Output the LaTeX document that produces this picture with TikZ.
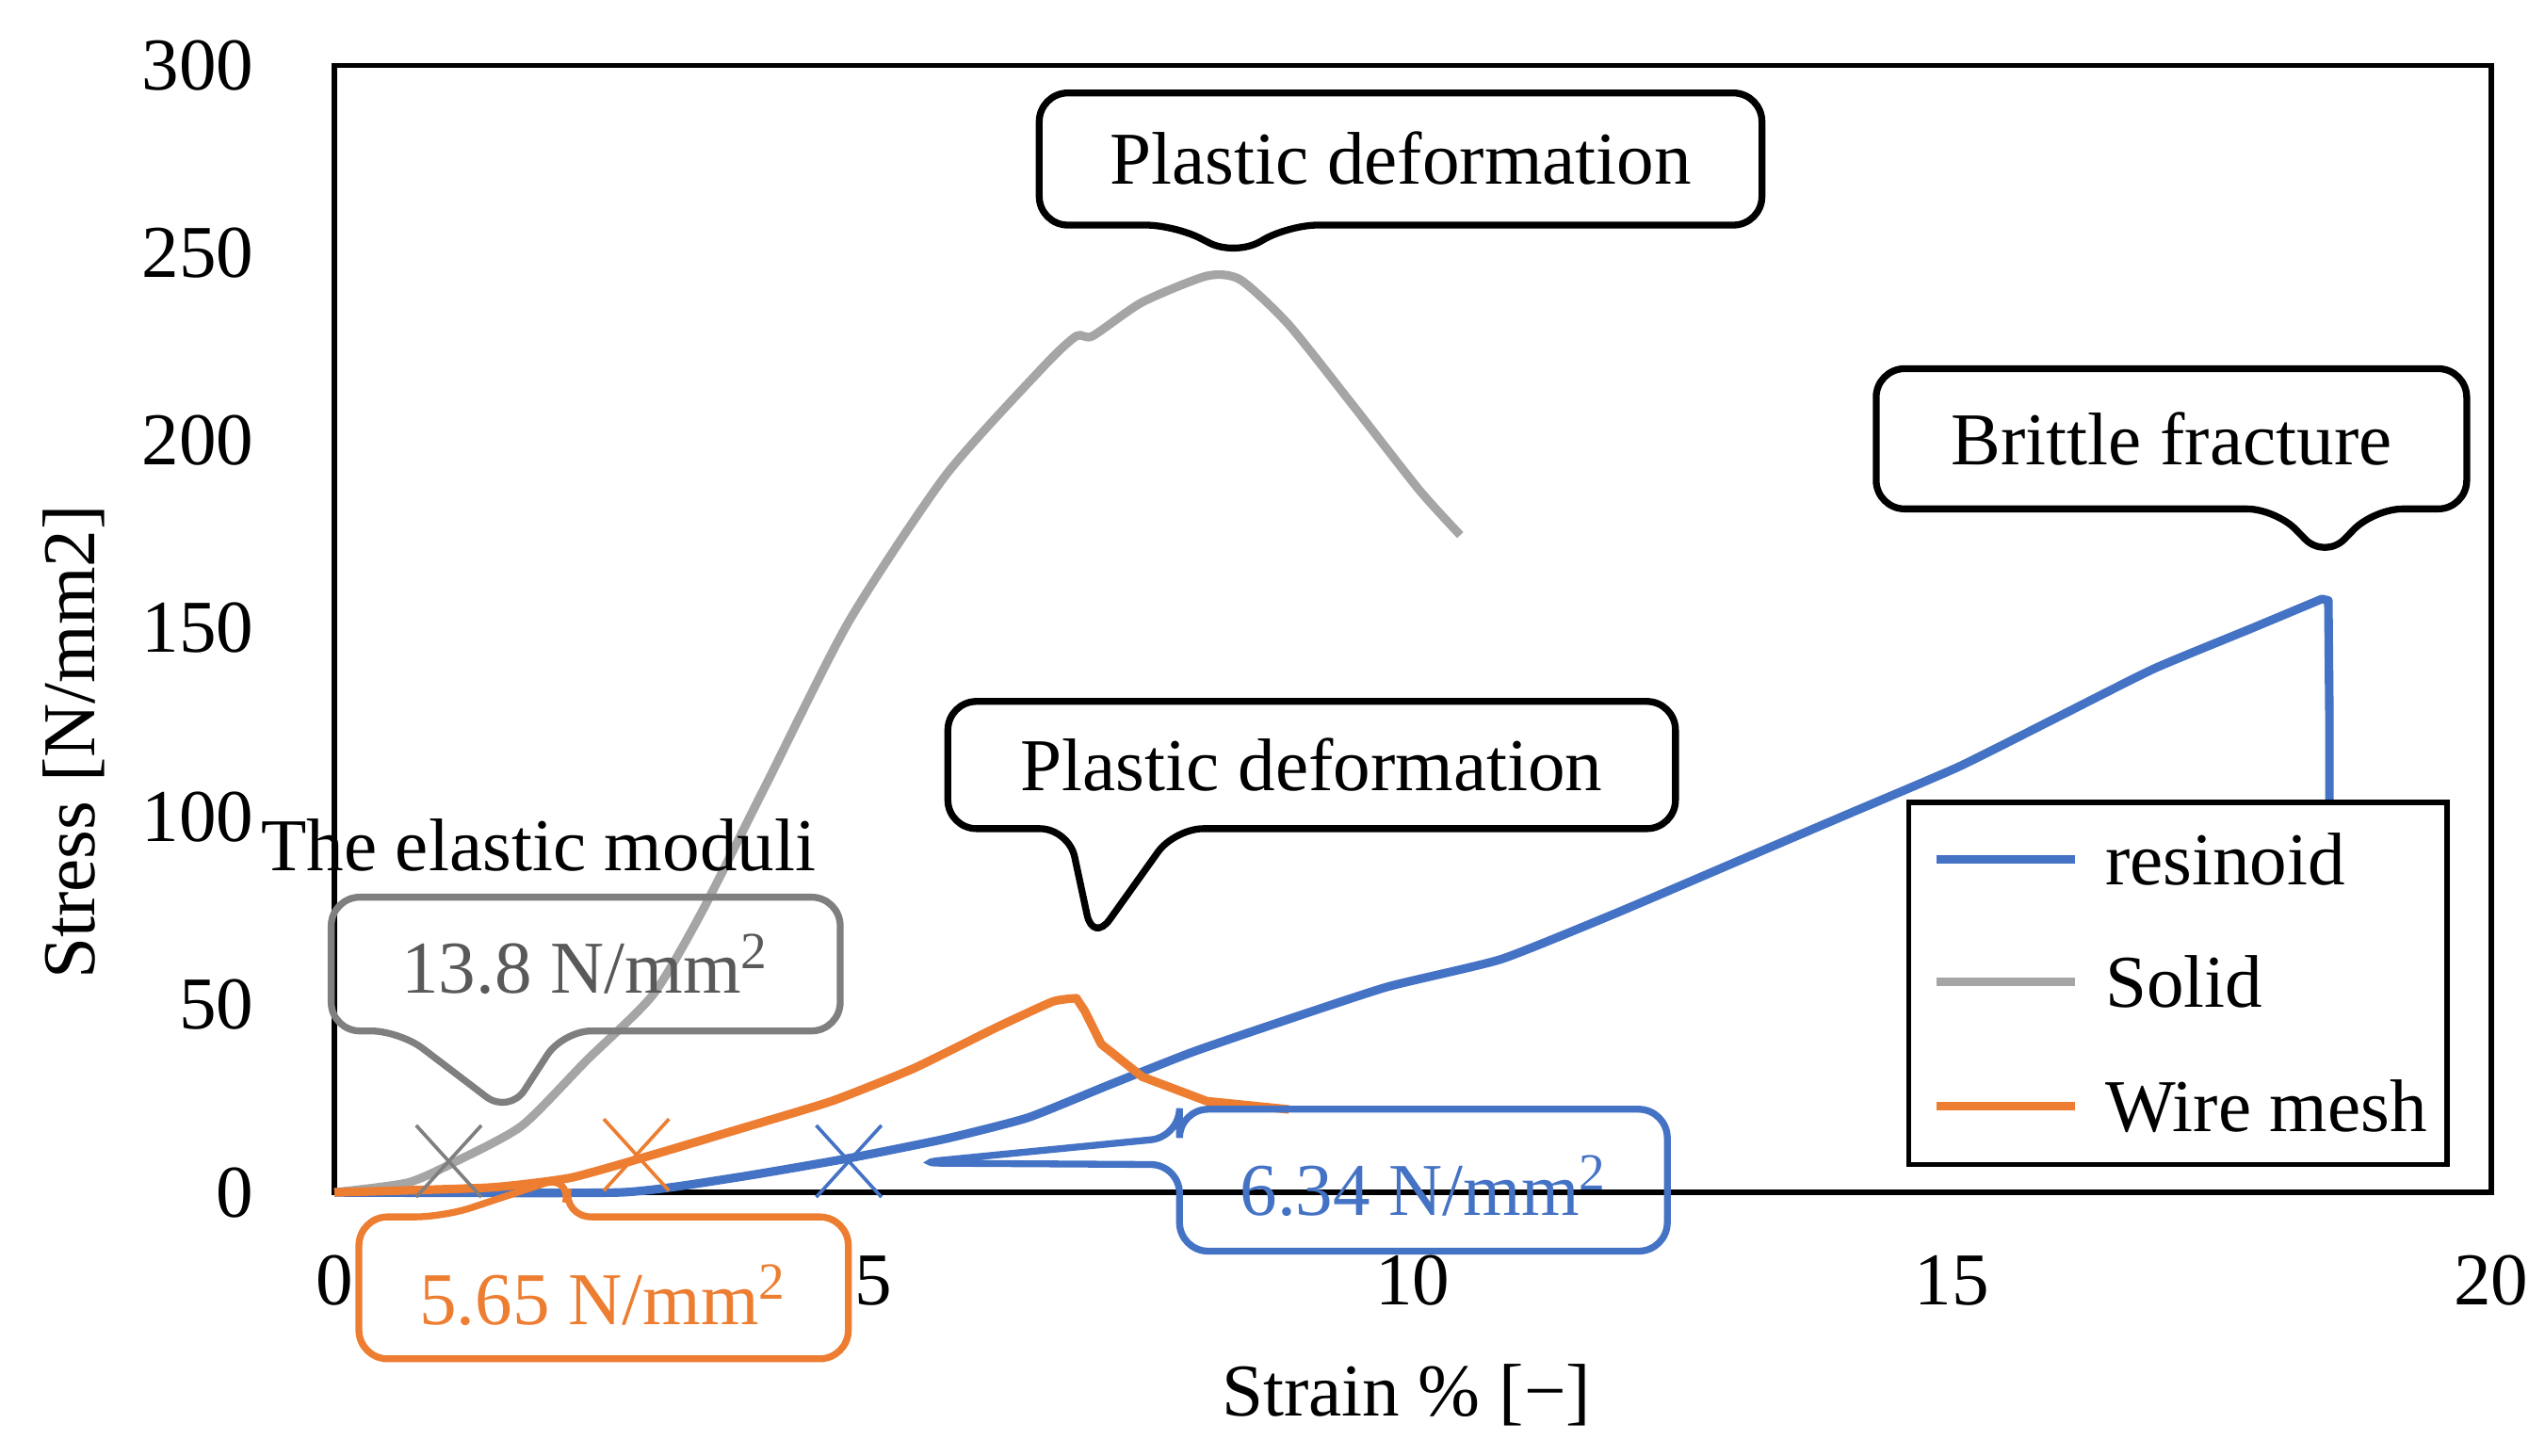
\documentclass[tikz,border=0pt]{standalone}
\usepackage{fontspec}
\setmainfont{Liberation Serif}
\usetikzlibrary{calc}
\definecolor{cblue}{HTML}{4472C4}
\definecolor{cgray}{HTML}{A5A5A5}
\definecolor{corange}{HTML}{ED7D31}
\definecolor{dgray}{HTML}{7F7F7F}
\definecolor{tgray}{HTML}{595959}
\begin{document}
\begin{tikzpicture}[
  lbl/.style={font=\fontsize{13}{15}\selectfont},
  call/.style={line width=1.2pt,rounded corners=5pt},
  curve/.style={line width=1.5pt,line join=round},
  mk/.style={line width=0.6pt}
]
\useasboundingbox (0,0) rectangle (15.6,8.92);
% frame
\draw[line width=0.9pt] (2.05,1.61) rectangle (15.27,8.52);
% y ticks
\foreach \v/\y in {0/1.61,50/2.76,100/3.91,150/5.07,200/6.22,250/7.37,300/8.52}
  \node[lbl,anchor=east] (yt\v) at (1.68,\y) {\v};
\foreach \v/\x in {0/2.05,5/5.355,10/8.66,15/11.965,20/15.27}
  \node[lbl] (xt\v) at (\x,1.07) {\v};
\node[lbl] (xlab) at (8.62,0.37) {Strain \% [\textminus]};
\node[lbl,rotate=90] (ylab) at (0.45,4.37) {Stress [N/mm2]};
% data
\begin{scope}[shift={(2.05,1.61)},x=0.661cm,y=0.02303cm]
\draw[curve,cgray] plot[smooth,tension=0.4] coordinates {(0,0) (0.68,2.6) (1.13,8.3) (1.74,17.8) (2.34,35.2) (2.95,52.5) (3.40,74.3) (4.01,109) (4.77,152) (5.67,191) (6.58,220) (6.88,228) (7.03,228) (7.49,237) (8.09,244) (8.40,243) (8.85,231) (9.46,209) (10.06,187) (10.44,175)};
\draw[curve,cblue] plot[smooth,tension=0.3] coordinates {(0,0) (2.65,0) (3.71,3.9) (4.77,9.1) (5.67,14.3) (6.43,19.9) (7.19,28.7) (7.95,37.3) (8.70,44.7) (9.76,54.7) (10.82,62.1) (11.88,74.3) (12.94,87.3) (14.0,100.3) (15.06,113.3) (15.97,126.4) (16.87,139.4) (17.78,150.2) (18.43,158)} -- (18.49,157.6) -- (18.50,126) -- (18.50,92);
\draw[curve,corange] plot[smooth,tension=0.3] coordinates {(0,0) (1.44,1.3) (2.19,3.9) (2.95,10) (3.71,16.5) (4.61,24.3) (5.37,33) (6.13,43.8) (6.66,50.8) (6.88,51.7)} -- (6.96,48.2) -- (7.11,39.5) -- (7.49,30.8) -- (8.09,24.3) -- (8.85,22.1);
\coordinate (mg) at (1.06,8.3);
\coordinate (mo) at (2.8,10);
\coordinate (mb) at (4.77,8.3);
\end{scope}
\foreach \c/\col in {mg/dgray,mo/corange,mb/cblue}{
  \draw[mk,\col] ($(\c)+(-0.2,-0.22)$) -- ($(\c)+(0.2,0.22)$);
  \draw[mk,\col] ($(\c)+(-0.2,0.22)$) -- ($(\c)+(0.2,-0.22)$);
}
% callouts
\draw[call] (6.37,8.35) -- (10.80,8.35) -- (10.80,7.54) -- (7.90,7.54) -- (7.57,7.35) -- (7.20,7.54) -- (6.37,7.54) -- cycle;
\node[lbl] (pd1) at (8.585,7.95) {Plastic deformation};
\draw[call] (11.50,6.66) -- (15.12,6.66) -- (15.12,5.80) -- (14.55,5.80) -- (14.25,5.49) -- (13.95,5.80) -- (11.50,5.80) -- cycle;
\node[lbl] (bf) at (13.31,6.23) {Brittle fracture};
\draw[call] (5.81,4.62) -- (10.27,4.62) -- (10.27,3.84) -- (7.20,3.84) -- (6.70,3.14) -- (6.55,3.84) -- (5.81,3.84) -- cycle;
\node[lbl] (pd2) at (8.04,4.23) {Plastic deformation};
\draw[call,dgray] (2.03,3.42) -- (5.15,3.42) -- (5.15,2.60) -- (3.45,2.60) -- (3.12,2.09) -- (2.45,2.60) -- (2.03,2.60) -- cycle;
\node[lbl,text=tgray] (g138) at (3.59,3.01) {13.8 N/mm\textsuperscript{2}};
\node[lbl] (em) at (3.30,3.74) {The elastic moduli};
\draw[call,corange] (2.20,1.46) -- (2.72,1.46) -- (3.50,1.72) -- (3.45,1.46) -- (5.20,1.46) -- (5.20,0.59) -- (2.20,0.59) -- cycle;
\node[lbl,text=corange] (o565) at (3.70,0.98) {5.65 N/mm\textsuperscript{2}};
\draw[call,cblue] (7.23,2.12) -- (10.22,2.12) -- (10.22,1.25) -- (7.23,1.25) -- (7.23,1.78) -- (5.60,1.79) -- (7.23,1.95) -- cycle;
\node[lbl,text=cblue] (b634) at (8.73,1.65) {6.34 N/mm\textsuperscript{2}};
% legend
\draw[line width=0.9pt,fill=white] (11.70,4.00) rectangle (15.00,1.78);
\foreach \y/\col/\t/\n in {3.65/cblue/resinoid/lr,2.90/cgray/Solid/ls,2.14/corange/Wire mesh/lw}{
  \draw[curve,\col] (11.87,\y) -- (12.72,\y);
  \node[lbl,anchor=west] (\n) at (12.78,\y) {\t};
}
\end{tikzpicture}
\end{document}
